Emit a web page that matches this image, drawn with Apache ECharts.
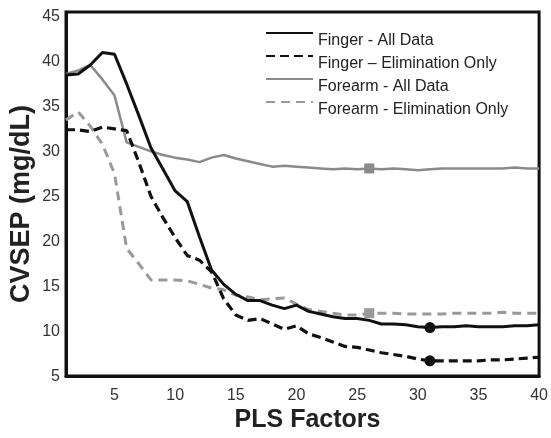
<!DOCTYPE html>
<html>
<head>
<meta charset="utf-8">
<script src="https://cdn.jsdelivr.net/npm/echarts@6/dist/echarts.min.js"></script>
<style>
html,body{margin:0;padding:0;background:#fff;}
#chart{width:551px;height:438px;}
</style>
</head>
<body>
<div id="chart"></div>
<script>
const factors = [1,2,3,4,5,6,7,8,9,10,11,12,13,14,15,16,17,18,19,20,21,22,23,24,25,26,27,28,29,30,31,32,33,34,35,36,37,38,39,40];
const fingerAll = [38.5,38.6,39.6,41.0,40.8,37.5,34.0,30.4,28.0,25.6,24.4,20.5,16.8,15.2,14.1,13.4,13.4,12.9,12.5,12.9,12.2,11.9,11.6,11.4,11.4,11.2,10.8,10.8,10.7,10.5,10.4,10.5,10.5,10.6,10.5,10.5,10.5,10.6,10.6,10.7];
const fingerElim = [32.4,32.4,32.2,32.7,32.5,32.3,28.8,25.0,22.6,20.4,18.4,17.9,16.6,13.6,11.8,11.2,11.4,10.8,10.2,10.6,9.7,9.3,8.8,8.3,8.2,7.9,7.6,7.4,7.2,6.9,6.7,6.7,6.7,6.7,6.7,6.8,6.8,6.9,7.0,7.1];
const forearmAll = [38.6,39.0,39.6,38.0,36.2,31.0,30.5,30.0,29.6,29.3,29.1,28.8,29.3,29.6,29.2,28.9,28.6,28.3,28.4,28.3,28.2,28.1,28.0,28.1,28.0,28.1,28.0,28.1,28.0,27.9,28.0,28.1,28.1,28.1,28.1,28.1,28.1,28.2,28.1,28.1];
const forearmElim = [33.5,34.4,32.8,30.8,27.5,19.2,17.5,15.7,15.7,15.7,15.6,15.2,14.8,14.6,14.0,13.8,13.5,13.6,13.7,13.0,12.4,12.2,12.0,11.8,11.8,12.0,12.0,12.0,11.9,11.9,11.9,11.9,12.0,12.0,12.0,12.0,12.1,12.0,12.0,12.0];
const seriesNames = ['Finger - All Data','Finger \u2013 Elimination Only','Forearm - All Data','Forearm - Elimination Only'];
const yTicks = [5,10,15,20,25,30,35,40,45];
const xLabelStep = 5;
const circleIdx = 30; // factor 31
const squareIdx = 25; // factor 26

const FONT = 'Liberation Sans, Arial, sans-serif';
const chart = echarts.init(document.getElementById('chart'), null, {renderer:'canvas'});

function mp(idx, arr, symbol, size, color){
  return {
    symbol: 'none',
    data: [{coord:[String(factors[idx]), arr[idx]], symbol: symbol, symbolSize: size, itemStyle:{color: color}}],
    label:{show:false},
    silent:true,
    animation:false
  };
}

chart.setOption({
  animation:false,
  backgroundColor:'#fff',
  textStyle:{fontFamily:FONT},
  grid:{left:66,right:9,top:12,bottom:51,show:true,borderColor:'#111',borderWidth:3,backgroundColor:'transparent'},
  legend:{
    left:260, top:12, orient:'vertical', itemWidth:47, itemHeight:14, itemGap:-9,
    data: seriesNames,
    itemStyle:{opacity:0, color:'rgba(0,0,0,0)', borderColor:'rgba(0,0,0,0)', borderWidth:0},
    formatter:function(n){return '\n' + n;},
    textStyle:{fontSize:16, color:'#222', fontFamily:FONT, lineHeight:16}
  },
  graphic:[{
    type:'text', x:22, y:204, rotation:Math.PI/2, silent:true,
    style:{text:'CVSEP (mg/dL)', font:'bold 27px "Liberation Sans", Arial, sans-serif', fill:'#222', align:'center', verticalAlign:'middle'}
  }],
  xAxis:{
    type:'category', data:factors.map(String), boundaryGap:false,
    axisLine:{show:true,lineStyle:{color:'#111',width:3}},
    axisTick:{show:false},
    splitLine:{show:false},
    axisLabel:{color:'#333',fontSize:16,fontFamily:FONT,margin:11,
      interval:function(i,v){return Number(v)%xLabelStep===0;}},
    name:'PLS Factors', nameLocation:'middle', nameGap:29,
    nameTextStyle:{fontSize:25,fontWeight:'bold',color:'#222',fontFamily:FONT,padding:[0,0,0,10]}
  },
  yAxis:{
    type:'value', min:yTicks[0], max:45.5, interval:5,
    axisLine:{show:true,lineStyle:{color:'#111',width:3}},
    axisTick:{show:false},
    splitLine:{show:false},
    axisLabel:{color:'#333',fontSize:16,fontFamily:FONT,margin:6,showMaxLabel:false,
      formatter:function(v){return yTicks.indexOf(v)>=0 ? String(v) : '';}}
  },
  series:[
    {name:seriesNames[0],type:'line',data:fingerAll,symbol:'none',z:4,
      lineStyle:{color:'#111',width:3},itemStyle:{color:'#111'},
      markPoint:mp(circleIdx,fingerAll,'circle',11,'#111')},
    {name:seriesNames[1],type:'line',data:fingerElim,symbol:'none',z:4,
      lineStyle:{color:'#111',width:3.2,type:[9,5]},itemStyle:{color:'#111'},
      markPoint:mp(circleIdx,fingerElim,'circle',11,'#111')},
    {name:seriesNames[2],type:'line',data:forearmAll,symbol:'none',z:3,
      lineStyle:{color:'#8a8a8a',width:2.5},itemStyle:{color:'#8a8a8a'},
      markPoint:mp(squareIdx,forearmAll,'rect',10,'#8a8a8a')},
    {name:seriesNames[3],type:'line',data:forearmElim,symbol:'none',z:3,
      lineStyle:{color:'#999',width:3,type:[9,6]},itemStyle:{color:'#999'},
      markPoint:mp(squareIdx,forearmElim,'rect',10,'#999')}
  ]
});
</script>
</body>
</html>
